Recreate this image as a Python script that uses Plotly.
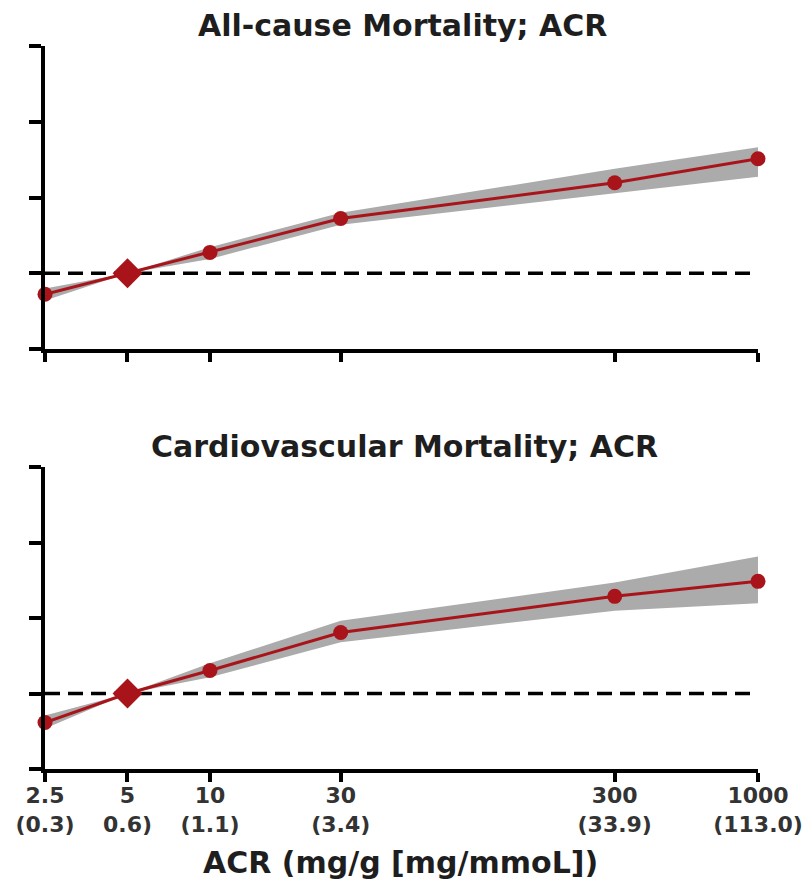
import plotly.graph_objects as go
from plotly.subplots import make_subplots

# Data
acr = [2.5, 5, 10, 30, 300, 1000]
tick_labels = ["2.5<br>(0.3)", "5<br>0.6)", "10<br>(1.1)", "30<br>(3.4)", "300<br>(33.9)", "1000<br>(113.0)"]

allcause_hr = [0.825, 1.0, 1.21, 1.65, 2.29, 2.85]
allcause_lo = [0.78, 1.0, 1.14, 1.56, 2.08, 2.42]
allcause_hi = [0.87, 1.0, 1.27, 1.74, 2.60, 3.17]

cv_hr = [0.766, 1.0, 1.235, 1.75, 2.44, 2.80]
cv_lo = [0.725, 1.0, 1.16, 1.60, 2.14, 2.29]
cv_hi = [0.817, 1.0, 1.32, 1.95, 2.77, 3.52]

y_ticks = [0.5, 1, 2, 4, 8]
titles = ["All-cause Mortality; ACR", "Cardiovascular Mortality; ACR"]
x_title = "ACR (mg/g [mg/mmoL])"

RED = "#A8141A"
BAND = "#ABABAB"
FONT = "DejaVu Sans, Liberation Sans, sans-serif"

fig = make_subplots(rows=2, cols=1)

panels = [(allcause_hr, allcause_lo, allcause_hi), (cv_hr, cv_lo, cv_hi)]
for i, (hr, lo, hi) in enumerate(panels, start=1):
    fig.add_trace(go.Scatter(x=acr, y=lo, mode="lines", line=dict(width=0, color=BAND),
                             showlegend=False, hoverinfo="skip"), row=i, col=1)
    fig.add_trace(go.Scatter(x=acr, y=hi, mode="lines", line=dict(width=0, color=BAND),
                             fill="tonexty", fillcolor=BAND, showlegend=False, hoverinfo="skip"), row=i, col=1)
    fig.add_trace(go.Scatter(x=[acr[0], acr[-1]], y=[1, 1], mode="lines",
                             line=dict(color="black", width=3.5, dash="15px,8px"),
                             showlegend=False, hoverinfo="skip"), row=i, col=1)
    symbols = ["diamond" if v == 5 else "circle" for v in acr]
    sizes = [23 if v == 5 else 15 for v in acr]
    fig.add_trace(go.Scatter(x=acr, y=hr, mode="lines+markers",
                             line=dict(color=RED, width=3),
                             marker=dict(color=RED, symbol=symbols, size=sizes, opacity=1,
                                         line=dict(width=0)),
                             cliponaxis=False, showlegend=False), row=i, col=1)

W, H = 807, 887
xdom = [45 / W, 758 / W]
doms = [[1 - 349 / H, 1 - 46 / H], [1 - 769 / H, 1 - 467 / H]]

for i in (1, 2):
    fig.update_xaxes(type="log", range=[0.39794, 3.0], domain=xdom, automargin=False,
                     tickvals=acr, ticktext=tick_labels if i == 2 else [""] * len(acr),
                     showticklabels=(i == 2),
                     ticks="outside", ticklen=9, tickwidth=3.5, tickcolor="black",
                     showline=True, linewidth=3.5, linecolor="black",
                     showgrid=False, zeroline=False, ticklabelstandoff=-5,
                     tickfont=dict(family=FONT, size=22, color="#333333", weight="bold"),
                     row=i, col=1)
    fig.update_yaxes(type="log", range=[-0.30103, 0.90309], domain=doms[i - 1], automargin=False,
                     tickvals=y_ticks, showticklabels=False,
                     ticks="outside", ticklen=12, tickwidth=3.5, tickcolor="black",
                     showline=True, linewidth=3.5, linecolor="black",
                     showgrid=False, zeroline=False, row=i, col=1)

for txt, xp, yp in [(titles[0], 402, 25), (titles[1], 405, 446), (x_title, 400, 862)]:
    fig.add_annotation(x=xp / W, y=1 - yp / H, xref="paper", yref="paper",
                       xanchor="center", yanchor="middle", text="<b>" + txt + "</b>",
                       showarrow=False, font=dict(family=FONT, size=30, color="#1e1e1e"))

fig.update_layout(width=W, height=H, margin=dict(l=0, r=0, t=0, b=0),
                  plot_bgcolor="white", paper_bgcolor="white", showlegend=False)

fig.write_html("out.html", config={"displayModeBar": False},
               post_script="document.body.style.margin='0px';")
